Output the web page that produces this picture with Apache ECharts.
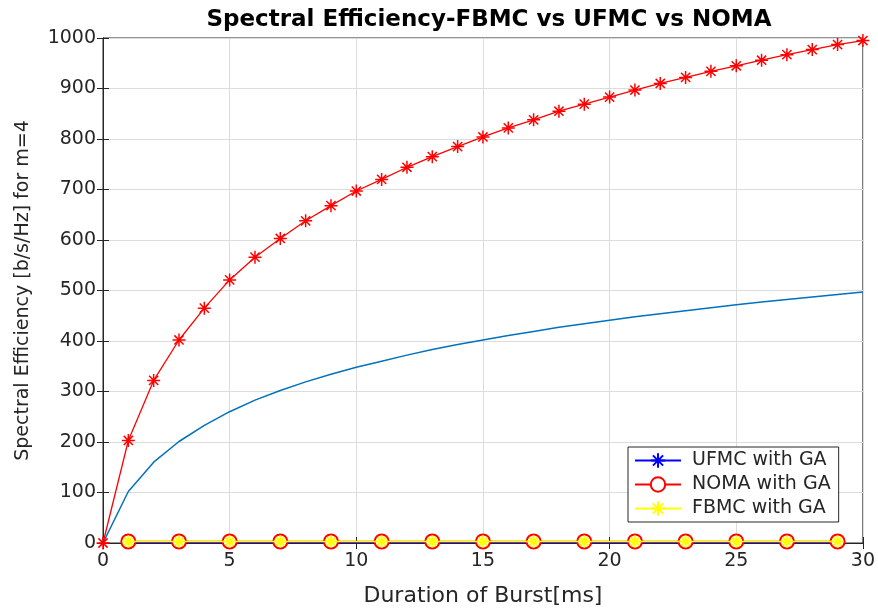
<!DOCTYPE html>
<html>
<head>
<meta charset="utf-8">
<script src="https://cdn.jsdelivr.net/npm/echarts@6/dist/echarts.min.js"></script>
<style>
  html, body { margin: 0; padding: 0; background: #fff; }
  #canvas { width: 878px; height: 612px; }
</style>
</head>
<body>
<div id="canvas"></div>
<script>
// duration of burst [ms]
const duration = [0,1,2,3,4,5,6,7,8,9,10,11,12,13,14,15,16,17,18,19,20,21,22,23,24,25,26,27,28,29,30];
// red curve with asterisks (no legend entry)
const redCurve = [0,203,322,402,465,521,566,603,638,668,697,720,744,765,785,804,822,838,855,869,883,897,910,922,934,945,956,967,977,987,995];
// blue curve without markers (no legend entry)
const blueCurve = [0,102,160,201,233,260,283,302,319,334,348,360,372,383,393,402,411,419,427,434,441,448,454,460,466,472,477,482,487,492,497];
// GA series, sampled at odd durations
const gaDuration = [1,3,5,7,9,11,13,15,17,19,21,23,25,27,29];
const ufmcGA = [1,1,1,1,1,1,1,1,1,1,1,1,1,1,1];
const nomaGA = [3,3,3,3,3,3,3,3,3,3,3,3,3,3,3];
const fbmcGA = [3,3,3,3,3,3,3,3,3,3,3,3,3,3,3];

const yTicks = [0,100,200,300,400,500,600,700,800,900,1000];
const xTicks = [0,5,10,15,20,25,30];

const star = 'path://M0,-10L0,10M-10,0L10,0M-7.07,-7.07L7.07,7.07M-7.07,7.07L7.07,-7.07';
const pairs = (xs, ys) => xs.map((x, i) => [x, ys[i]]);
const font = 'DejaVu Sans';
const txt = '#262626';

function drawChart(canvas = "canvas") {
  const myChart = echarts.init(document.getElementById(canvas));
  const option = {
    backgroundColor: '#fff',
    animation: false,
    title: {
      text: 'Spectral Efficiency-FBMC vs UFMC vs NOMA',
      left: 484, textAlign: 'center', top: 4,
      textStyle: { fontFamily: font, fontSize: 23, fontWeight: 'bold', color: '#000' }
    },
    grid: {
      left: 103, right: 15, top: 38, bottom: 67,
      show: true, borderColor: txt, borderWidth: 1, backgroundColor: '#fff'
    },
    legend: {
      data: ['UFMC with GA', 'NOMA with GA', 'FBMC with GA'],
      orient: 'vertical',
      left: 628, top: 447,
      padding: [4, 8, 4, 6],
      itemGap: 5,
      itemWidth: 46, itemHeight: 18,
      backgroundColor: '#fff',
      borderColor: txt, borderWidth: 1, borderRadius: 0,
      textStyle: { fontFamily: font, fontSize: 19, color: txt, padding: [0, 0, 0, 6] }
    },
    xAxis: [{
      type: 'value', min: 0, max: 30, interval: 5,
      name: 'Duration of Burst[ms]', nameLocation: 'middle', nameGap: 42,
      nameTextStyle: { fontFamily: font, fontSize: 22, color: txt },
      axisLine: { show: true, onZero: false, lineStyle: { color: txt } },
      axisTick: { show: true, inside: true, length: 6, lineStyle: { color: txt } },
      axisLabel: { fontFamily: font, fontSize: 19, color: txt, margin: 9,
        formatter: v => xTicks.includes(v) ? String(v) : '' },
      splitLine: { show: true, lineStyle: { color: '#dcdcdc' } }
    }, {
      type: 'value', min: 0, max: 30, interval: 5, position: 'top',
      axisLine: { show: true, lineStyle: { color: txt } },
      axisTick: { show: true, inside: true, length: 6, lineStyle: { color: txt } },
      axisLabel: { show: false }, splitLine: { show: false }
    }],
    yAxis: [{
      type: 'value', min: 0, max: 1000, interval: 100,
      name: 'Spectral Efficiency [b/s/Hz] for m=4', nameLocation: 'middle', nameGap: 70,
      nameTextStyle: { fontFamily: font, fontSize: 19, color: txt },
      axisLine: { show: true, onZero: false, lineStyle: { color: txt } },
      axisTick: { show: true, inside: true, length: 6, lineStyle: { color: txt } },
      axisLabel: { fontFamily: font, fontSize: 19, color: txt, margin: 7,
        formatter: v => yTicks.includes(v) ? String(v) : '' },
      splitLine: { show: true, lineStyle: { color: '#dcdcdc' } }
    }, {
      type: 'value', min: 0, max: 1000, interval: 100, position: 'right',
      axisLine: { show: true, lineStyle: { color: txt } },
      axisTick: { show: true, inside: true, length: 6, lineStyle: { color: txt } },
      axisLabel: { show: false }, splitLine: { show: false }
    }],
    series: [
      {
        name: 'red curve', type: 'line', data: pairs(duration, redCurve),
        symbol: star, symbolSize: 13,
        lineStyle: { color: '#ff0000', width: 1.3 },
        itemStyle: { color: '#ff0000', borderColor: '#ff0000', borderWidth: 1.5 },
        z: 3
      },
      {
        name: 'blue curve', type: 'line', data: pairs(duration, blueCurve),
        showSymbol: false, symbol: 'none',
        lineStyle: { color: '#0072bd', width: 1.5 },
        itemStyle: { color: '#0072bd' },
        z: 2
      },
      {
        name: 'UFMC with GA', type: 'line', data: pairs(gaDuration, ufmcGA),
        symbol: star, symbolSize: 11,
        lineStyle: { color: '#0000ff', width: 1.5 },
        itemStyle: { color: '#0000ff', borderColor: '#0000ff', borderWidth: 1.2 },
        z: 4
      },
      {
        name: 'NOMA with GA', type: 'line', data: pairs(gaDuration, nomaGA),
        symbol: 'emptyCircle', symbolSize: 14,
        lineStyle: { color: '#ff0000', width: 1.5 },
        itemStyle: { color: '#ff0000', borderColor: '#ff0000', borderWidth: 1.5 },
        z: 5
      },
      {
        name: 'FBMC with GA', type: 'line', data: pairs(gaDuration, fbmcGA),
        symbol: star, symbolSize: 12,
        lineStyle: { color: '#ffff00', width: 1.5 },
        itemStyle: { color: '#ffff00', borderColor: '#ffff00', borderWidth: 2 },
        z: 6
      }
    ]
  };
  myChart.setOption(option);
}

drawChart();
</script>
</body>
</html>
